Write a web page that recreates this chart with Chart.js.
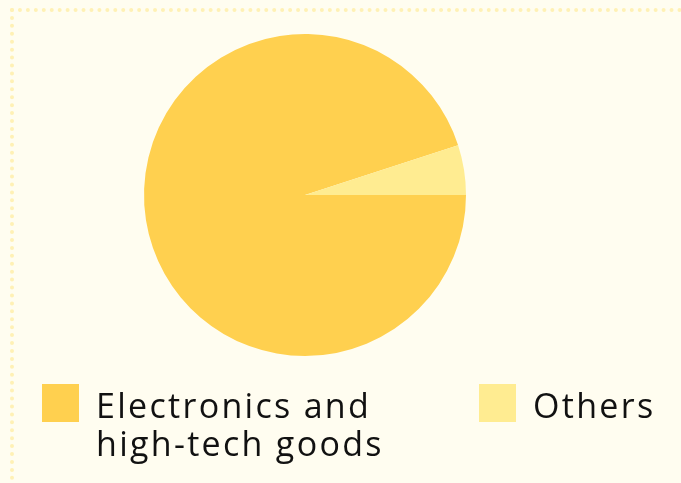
<!DOCTYPE html>
<html>
<head>
<meta charset="utf-8">
<script src="https://cdn.jsdelivr.net/npm/chart.js@4.4.1/dist/chart.umd.min.js"></script>
<style>
  html, body { margin: 0; padding: 0; width: 681px; height: 483px; overflow: hidden; background: #fffdf0; }
  .frame { position: absolute; left: 10px; top: 8px; width: 720px; height: 520px; border: 4px dotted #fff1b5; }
  .chartBox { position: absolute; left: 0; top: 0; width: 681px; height: 370px; }
  #legend { position: absolute; left: 0; top: 0; width: 681px; height: 483px; pointer-events: none;
            font-family: "Open Sans", sans-serif; font-size: 34px; letter-spacing: 2.3px; color: #111; }
  .item { position: absolute; display: flex; align-items: flex-start; }
  .swatch { width: 37px; height: 38px; flex: none; }
  .label { line-height: 38px; margin-left: 17px; margin-top: 2px; white-space: nowrap; }
</style>
</head>
<body>
<div class="frame"></div>
<div class="chartBox"><canvas id="pie"></canvas></div>
<div id="legend"></div>
<script>
// data
const categories = [['Electronics and', 'high-tech goods'], 'Others'];
const shares = [95, 5];
const sliceColors = ['#ffd04f', '#ffec91'];
// where each legend entry sits (left edge of the swatch)
const legendX = [42, 479];

const ctx = document.getElementById('pie').getContext('2d');
const myChart = new Chart(ctx, {
    type: 'pie',
    data: {
        labels: categories,
        datasets: [{
            data: shares,
            backgroundColor: sliceColors,
            borderWidth: 0
        }]
    },
    options: {
        responsive: true,
        maintainAspectRatio: false,
        animation: false,
        rotation: 90,
        layout: {
            padding: { top: 34, bottom: 14, left: 0, right: 71 }
        },
        plugins: {
            legend: { display: false },
            tooltip: { enabled: false }
        }
    }
});

// html legend built from the chart's own data
const legendEl = document.getElementById('legend');
myChart.data.labels.forEach(function(lbl, i) {
    const item = document.createElement('div');
    item.className = 'item';
    item.style.left = legendX[i] + 'px';
    item.style.top = '384px';
    const sw = document.createElement('div');
    sw.className = 'swatch';
    sw.style.background = myChart.data.datasets[0].backgroundColor[i];
    const tx = document.createElement('div');
    tx.className = 'label';
    tx.innerHTML = Array.isArray(lbl) ? lbl.join('<br>') : lbl;
    item.appendChild(sw);
    item.appendChild(tx);
    legendEl.appendChild(item);
});
</script>
</body>
</html>
